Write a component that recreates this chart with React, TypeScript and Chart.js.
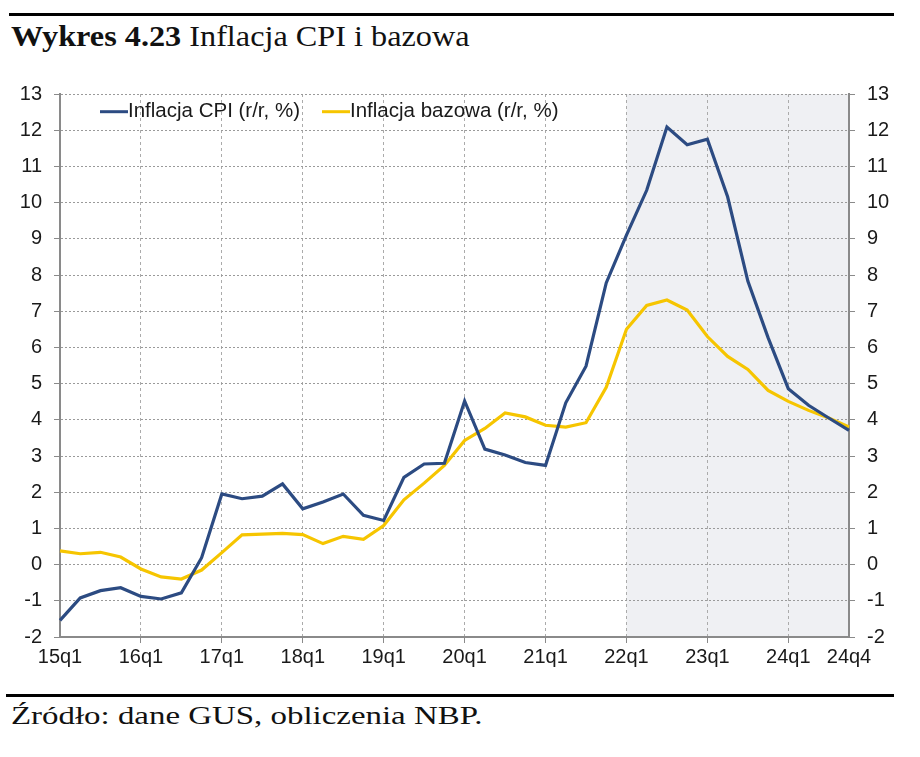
import React, { useEffect, useLayoutEffect, useRef, useState } from 'react';
import { Chart, registerables } from 'chart.js';

Chart.register(...registerables);

// ---------- data ----------
const quarters = [
  '15q1', '15q2', '15q3', '15q4',
  '16q1', '16q2', '16q3', '16q4',
  '17q1', '17q2', '17q3', '17q4',
  '18q1', '18q2', '18q3', '18q4',
  '19q1', '19q2', '19q3', '19q4',
  '20q1', '20q2', '20q3', '20q4',
  '21q1', '21q2', '21q3', '21q4',
  '22q1', '22q2', '22q3', '22q4',
  '23q1', '23q2', '23q3', '23q4',
  '24q1', '24q2', '24q3', '24q4',
];

const xTickLabels = ['15q1', '16q1', '17q1', '18q1', '19q1', '20q1', '21q1', '22q1', '23q1', '24q1', '24q4'];
const xGridLabels = ['16q1', '17q1', '18q1', '19q1', '20q1', '21q1', '22q1', '23q1', '24q1'];

const cpiInflation = [
  -1.54, -0.92, -0.72, -0.64,
  -0.88, -0.95, -0.78, 0.19,
  1.95, 1.82, 1.89, 2.23,
  1.54, 1.73, 1.95, 1.36,
  1.22, 2.41, 2.78, 2.8,
  4.52, 3.19, 3.03, 2.82,
  2.74, 4.47, 5.48, 7.78,
  9.1, 10.34, 12.09, 11.6,
  11.75, 10.16, 7.83, 6.27,
  4.86, 4.4, 4.05, 3.71,
];

const coreInflation = [
  0.38, 0.3, 0.34, 0.21,
  -0.12, -0.34, -0.4, -0.15,
  0.33, 0.82, 0.84, 0.86,
  0.83, 0.58, 0.78, 0.7,
  1.08, 1.79, 2.25, 2.74,
  3.43, 3.76, 4.19, 4.08,
  3.85, 3.8, 3.92, 4.9,
  6.5, 7.16, 7.31, 7.03,
  6.3, 5.75, 5.39, 4.81,
  4.51, 4.26, 4.05, 3.8,
];

const seriesNames = ['Inflacja CPI (r/r, %)', 'Inflacja bazowa (r/r, %)'];
const projectionStart = '22q1';
const yMin = -2;
const yMax = 13;

const titleBold = 'Wykres 4.23';
const titleRest = ' Inflacja CPI i bazowa';
const sourceText = 'Źródło: dane GUS, obliczenia NBP.';

// ---------- styles ----------
const BLUE = '#2c4b82';
const YELLOW = '#f6c500';
const TEXT = '#1a1a1a';
const AXIS = '#8a8a8a';
const GRID_H = '#9a9a9a';
const GRID_V = '#ababab';
const SHADE = '#eff0f3';
const SANS = '"Liberation Sans", Arial, sans-serif';
const SERIF = '"Liberation Serif", "Times New Roman", serif';

const shadePlugin = {
  id: 'projectionShade',
  beforeDraw(chart: any) {
    const { ctx, chartArea, scales } = chart;
    const x0 = scales.x.getPixelForValue(quarters.indexOf(projectionStart));
    ctx.save();
    ctx.fillStyle = SHADE;
    ctx.fillRect(x0, chartArea.top, chartArea.right - x0, chartArea.bottom - chartArea.top);
    ctx.restore();
  },
};

const legendPlugin = {
  id: 'insideLegend',
  afterDraw(chart: any) {
    const { ctx } = chart;
    ctx.save();
    ctx.font = `20.5px ${SANS}`;
    ctx.textBaseline = 'alphabetic';
    ctx.textAlign = 'left';
    let x = 100;
    const lineY = 41.7;
    const textY = 47.3;
    chart.data.datasets.forEach((ds: any) => {
      ctx.strokeStyle = ds.borderColor;
      ctx.lineWidth = 3;
      ctx.beginPath();
      ctx.moveTo(x, lineY);
      ctx.lineTo(x + 28, lineY);
      ctx.stroke();
      ctx.fillStyle = TEXT;
      ctx.fillText(ds.label, x + 28, textY);
      x += 28 + ctx.measureText(ds.label).width + 22;
    });
    ctx.restore();
  },
};

function FitText({ left, top, width, fontSize, children }: any) {
  const ref = useRef<HTMLDivElement>(null);
  const [scale, setScale] = useState(1);
  useLayoutEffect(() => {
    const measure = () => {
      if (ref.current) {
        const w = ref.current.offsetWidth;
        if (w > 0) setScale(width / w);
      }
    };
    measure();
    if ((document as any).fonts && (document as any).fonts.ready) {
      (document as any).fonts.ready.then(measure);
    }
  }, [width]);
  return (
    <div
      ref={ref}
      style={{
        position: 'absolute',
        left,
        top,
        fontFamily: SERIF,
        fontSize,
        lineHeight: `${fontSize}px`,
        whiteSpace: 'nowrap',
        color: '#111',
        transform: `scaleX(${scale})`,
        transformOrigin: 'left top',
      }}
    >
      {children}
    </div>
  );
}

function InflationChart() {
  const canvasRef = useRef<HTMLCanvasElement>(null);

  useEffect(() => {
    if (!canvasRef.current) return;
    const tickFont = { family: SANS, size: 20 };
    const chart = new Chart(canvasRef.current, {
      type: 'line',
      data: {
        labels: quarters,
        datasets: [
          {
            label: seriesNames[0],
            data: cpiInflation,
            borderColor: BLUE,
            backgroundColor: BLUE,
            borderWidth: 3.2,
            pointRadius: 0,
            tension: 0,
            fill: false,
          },
          {
            label: seriesNames[1],
            data: coreInflation,
            borderColor: YELLOW,
            backgroundColor: YELLOW,
            borderWidth: 3.2,
            pointRadius: 0,
            tension: 0,
            fill: false,
          },
        ],
      },
      options: {
        animation: false,
        responsive: true,
        maintainAspectRatio: false,
        layout: { padding: { top: 20, left: 0, right: 0, bottom: 0 } },
        plugins: {
          legend: { display: false },
          tooltip: { enabled: false },
        },
        scales: {
          x: {
            type: 'category',
            offset: false,
            ticks: {
              autoSkip: false,
              maxRotation: 0,
              minRotation: 0,
              padding: 2,
              color: TEXT,
              font: tickFont,
              callback: (_v: any, i: number) =>
                xTickLabels.includes(quarters[i]) ? quarters[i] : '',
            },
            grid: {
              color: (c: any) =>
                xGridLabels.includes(quarters[c.index]) ? GRID_V : 'rgba(0,0,0,0)',
              tickColor: (c: any) =>
                xGridLabels.includes(quarters[c.index]) ? AXIS : 'rgba(0,0,0,0)',
              tickLength: 6,
              tickBorderDash: [],
              lineWidth: 1,
            },
            border: { color: AXIS, width: 2, dash: [3, 3] },
            afterFit: (s: any) => {
              s.height = 43;
            },
          },
          y: {
            position: 'left',
            min: yMin,
            max: yMax,
            ticks: { stepSize: 1, padding: 12, color: TEXT, font: tickFont },
            grid: {
              color: GRID_H,
              tickColor: AXIS,
              tickLength: 6,
              tickBorderDash: [],
              lineWidth: 1,
            },
            border: { color: AXIS, width: 2, dash: [2, 2] },
            afterFit: (s: any) => {
              s.width = 60;
            },
          },
          y2: {
            position: 'right',
            min: yMin,
            max: yMax,
            ticks: { stepSize: 1, padding: 12, color: TEXT, font: tickFont },
            grid: {
              drawOnChartArea: false,
              tickColor: AXIS,
              tickLength: 6,
              tickBorderDash: [],
            },
            border: { color: AXIS, width: 2 },
            afterFit: (s: any) => {
              s.width = 71;
            },
          },
        },
      } as any,
      plugins: [shadePlugin, legendPlugin],
    });
    return () => chart.destroy();
  }, []);

  return (
    <div style={{ position: 'absolute', left: 0, top: 70, width: 920, height: 610 }}>
      <canvas ref={canvasRef} />
    </div>
  );
}

export default function App() {
  return (
    <div
      style={{
        position: 'absolute',
        left: 0,
        top: 0,
        width: 920,
        height: 757,
        background: '#fff',
        overflow: 'hidden',
      }}
    >
      <div style={{ position: 'absolute', left: 9, top: 13, width: 885, height: 3, background: '#000' }} />
      <FitText left={11} top={21} width={459} fontSize={30}>
        <b>{titleBold}</b>
        {titleRest}
      </FitText>
      <InflationChart />
      <div style={{ position: 'absolute', left: 6, top: 694, width: 888, height: 3, background: '#000' }} />
      <FitText left={11} top={703} width={472} fontSize={26}>
        {sourceText}
      </FitText>
    </div>
  );
}
